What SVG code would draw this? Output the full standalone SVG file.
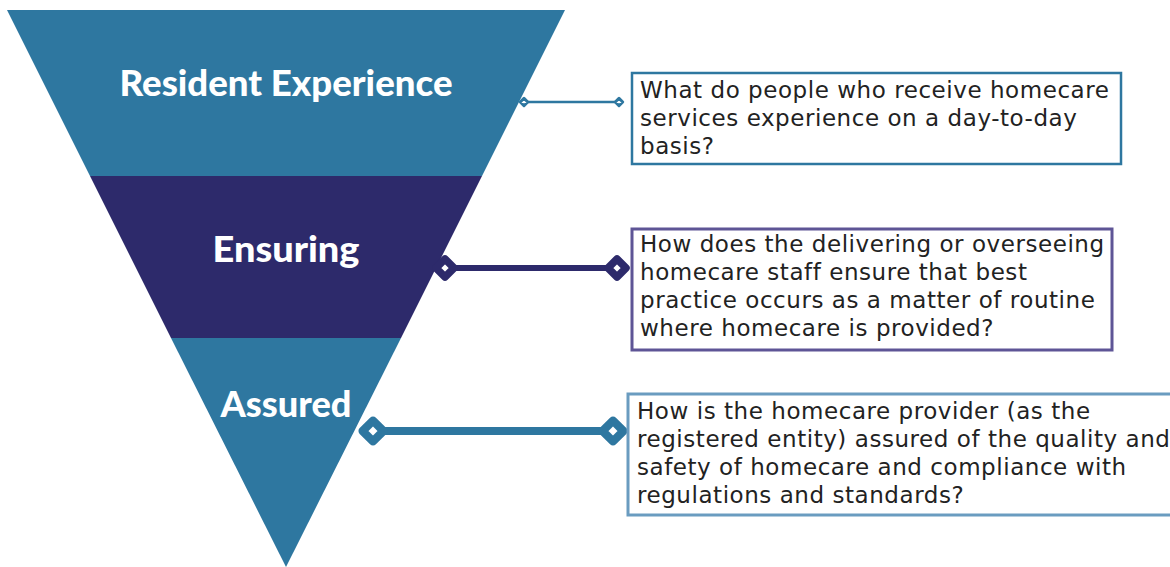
<svg xmlns="http://www.w3.org/2000/svg" width="1170" height="567" viewBox="0 0 1170 567">
<style>
.title{font-family:Lato,"Open Sans",sans-serif;font-weight:900;fill:#ffffff;text-anchor:middle;font-size:36px}
.body{font-family:"DejaVu Sans",sans-serif;font-size:23px;letter-spacing:0.55px;fill:#222222}
.blue{fill:#2E77A0}
.navy{fill:#2D2A6B}
.dia{fill:#ffffff;stroke-linejoin:round}
</style>
<rect width="1170" height="567" fill="#ffffff"/>
<g id="funnel">
<g id="resident-experience">
<polygon class="blue" points="7,10 565,10 482,176 90,176"/>
<text class="title" x="286" y="96" textLength="333" lengthAdjust="spacingAndGlyphs">Resident Experience</text>
</g>
<g id="ensuring">
<polygon class="navy" points="90,176 482,176 401,338 171,338"/>
<text class="title" x="286" y="262" textLength="147" lengthAdjust="spacingAndGlyphs">Ensuring</text>
</g>
<g id="assured">
<polygon class="blue" points="171,338 401,338 286,567"/>
<text class="title" x="286" y="417" textLength="131" lengthAdjust="spacingAndGlyphs">Assured</text>
</g>
</g>
<g id="connectors">
<line x1="524" y1="102" x2="619" y2="102" stroke="#2E77A0" stroke-width="2.5"/>
<path class="dia" stroke="#2E77A0" stroke-width="3" d="M520.3,102 L524,98.3 L527.7,102 L524,105.7 Z"/>
<path class="dia" stroke="#2E77A0" stroke-width="3" d="M615.3,102 L619,98.3 L622.7,102 L619,105.7 Z"/>
<line x1="445" y1="268" x2="617" y2="268" stroke="#2D2A6B" stroke-width="6"/>
<path class="dia" stroke="#2D2A6B" stroke-width="7.5" d="M436,268 L445,259 L454,268 L445,277 Z"/>
<path class="dia" stroke="#2D2A6B" stroke-width="7.5" d="M608,268 L617,259 L626,268 L617,277 Z"/>
<line x1="373" y1="431" x2="613" y2="431" stroke="#2E77A0" stroke-width="8"/>
<path class="dia" stroke="#2E77A0" stroke-width="8.3" d="M362.6,431 L373,420.6 L383.4,431 L373,441.4 Z"/>
<path class="dia" stroke="#2E77A0" stroke-width="8.3" d="M602.6,431 L613,420.6 L623.4,431 L613,441.4 Z"/>
</g>
<g id="box-resident">
<rect x="632" y="73" width="489" height="91" fill="#ffffff" stroke="#2E77A0" stroke-width="2.5"/>
<text class="body" x="640" y="98">What do people who receive homecare</text>
<text class="body" x="640" y="126">services experience on a day-to-day</text>
<text class="body" x="640" y="154">basis?</text>
</g>
<g id="box-ensuring">
<rect x="632" y="229" width="480" height="121" fill="#ffffff" stroke="#5E5596" stroke-width="3"/>
<text class="body" x="640" y="252">How does the delivering or overseeing</text>
<text class="body" x="640" y="280">homecare staff ensure that best</text>
<text class="body" x="640" y="308">practice occurs as a matter of routine</text>
<text class="body" x="640" y="336">where homecare is provided?</text>
</g>
<g id="box-assured">
<rect x="628" y="394" width="560" height="121" fill="#ffffff" stroke="#6A9CC0" stroke-width="3"/>
<text class="body" x="637" y="419">How is the homecare provider (as the</text>
<text class="body" x="637" y="447">registered entity) assured of the quality and</text>
<text class="body" x="637" y="475">safety of homecare and compliance with</text>
<text class="body" x="637" y="503">regulations and standards?</text>
</g>
</svg>
